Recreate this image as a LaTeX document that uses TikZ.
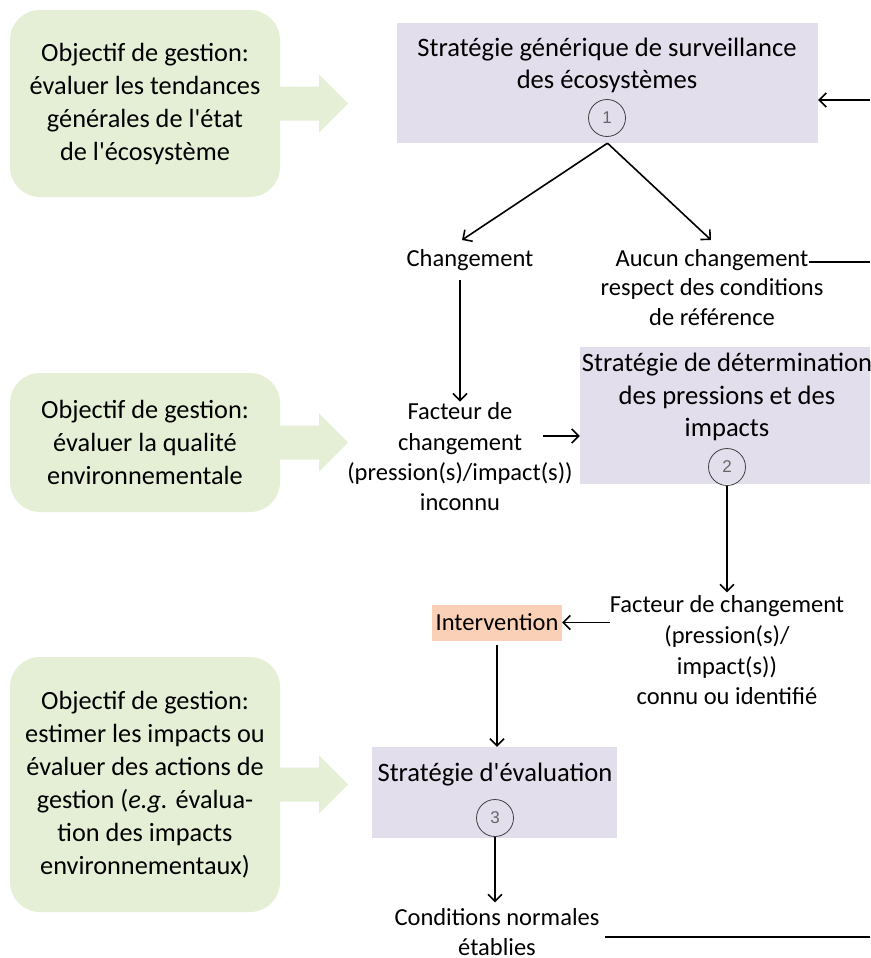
\documentclass[tikz,border=0pt]{standalone}
\usepackage{fontspec}
\setmainfont{Carlito}[Ligatures=TeXOff]
\newfontfamily\numfont{Liberation Sans}
\usetikzlibrary{arrows.meta,calc}
\definecolor{gfill}{HTML}{E4EFD6}
\definecolor{pfill}{HTML}{E3DEEB}
\definecolor{ofill}{HTML}{FAD1B6}
\begin{document}
\begin{tikzpicture}[x=1pt,y=-1pt,
  font=\fontsize{24.5}{30.5}\selectfont,
  gbox/.style={fill=gfill, rounded corners=30pt, minimum width=270pt, inner sep=0pt, align=center, font=\fontsize{26.3}{33}\selectfont},
  pbox/.style={fill=pfill, inner sep=0pt},
  plab/.style={inner sep=0pt, align=center, font=\fontsize{26.6}{32.5}\selectfont},
  txt/.style={inner sep=0pt, align=center},
  num/.style={circle, draw=black!75, line width=0.8pt, minimum size=37pt, inner sep=0pt, font=\numfont\fontsize{17}{17}\selectfont, text=black!60},
  arr/.style={line width=1.6pt, -{Straight Barb[length=7pt,width=14pt]}},
  ln/.style={line width=1.6pt}]
\useasboundingbox (0,0) rectangle (870,958);
\clip (0,0) rectangle (870,958);

% green objective boxes
\node[gbox, minimum height=187pt] (g1) at (145,103.5) {Objectif de gestion:\\évaluer les tendances\\générales de l'état\\de l'écosystème};
\node[gbox, minimum height=139pt] (g2) at (145,442.5) {Objectif de gestion:\\évaluer la qualité\\environnementale};
\node[gbox, minimum height=255pt] (g3) at (145,784.5) {Objectif de gestion:\\estimer les impacts ou\\évaluer des actions de\\gestion (\textit{e.g.} évalua-\\tion des impacts\\environnementaux)};

% green block arrows
\foreach \g in {g1,g2,g3}{
  \fill[gfill, shift={(\g.east)}] (-1,-17) -- (39,-17) -- (39,-29) -- (68,0) -- (39,29) -- (39,17) -- (-1,17) -- cycle;
}

% purple strategy boxes
\node[pbox, minimum width=421pt, minimum height=120pt] (b1) at (607.5,83) {};
\node[plab] (t1) at (607,65.5) {Stratégie générique de surveillance\\des écosystèmes};
\node[num] (c1) at (607,118) {1};

\node[pbox, minimum width=294pt, minimum height=137pt] (b2) at (727,415.5) {};
\node[plab] (t2) at (727,397) {Stratégie de détermination\\des pressions et des\\impacts};
\node[num] (c2) at (727,467) {2};

\node[pbox, minimum width=245pt, minimum height=91pt] (b3) at (494.5,792.5) {};
\node[plab] (t3) at (495,774.5) {Stratégie d'évaluation};
\node[num] (c3) at (495,818) {3};

% texts
\node[txt] (chg) at (470,259.8) {Changement};
\node[txt] (nc1) at (712,259.8) {Aucun changement};
\node[txt, font=\fontsize{24.5}{30}\selectfont] (nc2) at (712,302.3) {respect des conditions\\de référence};
\node[txt, font=\fontsize{24.5}{30.3}\selectfont] (fc1) at (460,456.8) {Facteur de\\changement\\(pression(s)/impact(s))\\inconnu};
\node[txt, font=\fontsize{24.5}{30.7}\selectfont] (fc2) at (727,650.3) {Facteur de changement\\(pression(s)/\\impact(s))\\connu ou identifié};
\node[fill=ofill, minimum width=130pt, minimum height=36pt, inner sep=0pt] (iv) at (497,622.5) {Intervention};
\node[txt] (cn) at (497,932) {Conditions normales\\établies};

% free ends at the right border
\coordinate (e1) at (870,100);
\coordinate (e2) at (870,262);
\coordinate (e3) at (870,937);
\coordinate (a2s) at (543,436);

% connectors
\draw[arr] (e1) -- (e1 -| b1.east);
\draw[ln] (e2) -- (e2 -| nc1.east);
\draw[arr] (b1.south) -- ($(chg.north)+(-8,-9)$);
\draw[arr] (b1.south) -- ($(nc1.north)+(-1,-9)$);
\draw[arr] ($(chg.south -| fc1.north)+(0,9)$) -- ($(fc1.north)+(0,-1)$);
\draw[arr] (a2s) -- (a2s -| b2.west);
\draw[arr] (c2.south) -- ($(c2.south |- fc2.north)+(0,-3)$);
\draw[arr] (fc2.west |- iv.east) -- (iv.east);
\draw[arr] ($(iv.south)+(0,4)$) -- (b3.north -| iv.south);
\draw[arr] (c3.south) -- ($(cn.north -| c3.south)+(0,-5.5)$);
\draw[ln] (e3) -- ($(e3 -| cn.east)+(5,0)$);
\end{tikzpicture}
\end{document}
